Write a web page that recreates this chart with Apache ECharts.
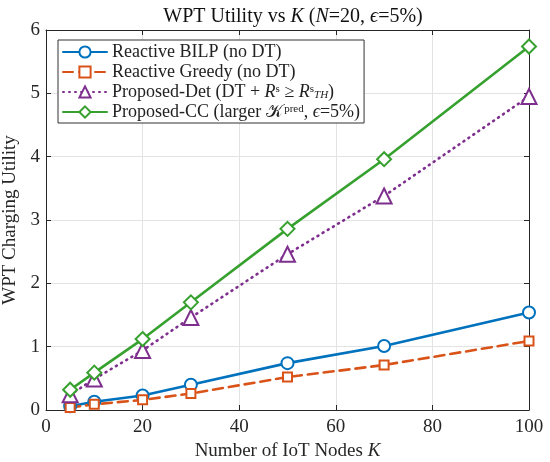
<!DOCTYPE html>
<html>
<head>
<meta charset="utf-8">
<script src="https://cdn.jsdelivr.net/npm/echarts@6/dist/echarts.min.js"></script>
<style>
  html, body { margin: 0; padding: 0; background: #fff; }
  #main { width: 550px; height: 462px; }
</style>
</head>
<body>
<div id="main"></div>
<script>
// data
var nodesK = [5, 10, 20, 30, 50, 70, 100];
var bilp   = [0.06, 0.13, 0.23, 0.40, 0.74, 1.01, 1.54];
var greedy = [0.04, 0.09, 0.16, 0.26, 0.52, 0.71, 1.09];
var det    = [0.24, 0.49, 0.94, 1.46, 2.46, 3.38, 4.95];
var cc     = [0.32, 0.59, 1.12, 1.70, 2.86, 3.96, 5.74];

var names = ['Reactive BILP (no DT)', 'Reactive Greedy (no DT)', 'Proposed-Det', 'Proposed-CC'];
var legendRich = {
  'Reactive BILP (no DT)': 'Reactive BILP (no DT)',
  'Reactive Greedy (no DT)': 'Reactive Greedy (no DT)',
  'Proposed-Det': 'Proposed-Det (DT + {i|R}{sup|s} ≥ {i|R}{sup|s}{sub|TH})',
  'Proposed-CC': 'Proposed-CC (larger {k|𝒦}{sup|pred}, {i|ϵ}=5%)'
};

var serif = 'Liberation Serif';
var axisCol = '#262626';

function pairs(ys) {
  var out = [];
  for (var i = 0; i < nodesK.length; i++) out.push([nodesK[i], ys[i]]);
  return out;
}

function mkSeries(name, ys, color, symbol, size, dash) {
  return {
    name: name,
    type: 'line',
    data: pairs(ys),
    symbol: symbol,
    symbolSize: size,
    showAllSymbol: true,
    lineStyle: { color: color, width: 2.6, type: dash, cap: 'round' },
    itemStyle: { color: color, borderColor: color, borderWidth: 2.2 },
    emphasis: { disabled: true },
    z: 3
  };
}

var chart = echarts.init(document.getElementById('main'));

chart.setOption({
  animation: false,
  backgroundColor: '#fff',
  title: {
    text: 'WPT Utility vs {i|K} ({i|N}=20, {i|ϵ}=5%)',
    left: 288,
    textAlign: 'center',
    top: 2,
    textStyle: {
      fontFamily: serif, fontSize: 20, fontWeight: 'normal', color: '#111',
      rich: { i: { fontFamily: serif, fontStyle: 'italic', fontSize: 20, color: '#111' } }
    }
  },
  grid: { left: 46, right: 21, top: 30, bottom: 52, outerBoundsMode: 'none' },
  legend: {
    orient: 'vertical',
    left: 58,
    top: 40,
    data: names,
    backgroundColor: '#fff',
    borderColor: '#333',
    borderWidth: 1,
    padding: [3, 4, 2, 4],
    itemGap: 2,
    itemWidth: 44,
    itemHeight: 14,
    formatter: function (n) { return legendRich[n]; },
    textStyle: {
      fontFamily: serif, fontSize: 18, color: '#222', lineHeight: 17.5,
      rich: {
        i: { fontFamily: serif, fontStyle: 'italic', fontSize: 18, color: '#222' },
        k: { fontFamily: serif, fontSize: 18, color: '#222', padding: [0, 1.5, 0, 0] },
        sup: { fontFamily: serif, fontSize: 11, color: '#222', verticalAlign: 'top', padding: [0, 0, 7, 0] },
        sub: { fontFamily: serif, fontStyle: 'italic', fontSize: 11, color: '#222', verticalAlign: 'bottom', padding: [5, 0, 0, 0] }
      }
    }
  },
  xAxis: [{
    type: 'value',
    min: 0, max: 100, interval: 20,
    name: 'Number of IoT Nodes {i|K}',
    nameLocation: 'middle',
    nameGap: 30,
    nameTextStyle: {
      fontFamily: serif, fontSize: 19, color: axisCol,
      rich: { i: { fontFamily: serif, fontStyle: 'italic', fontSize: 19, color: axisCol } }
    },
    axisLine: { show: true, onZero: false, lineStyle: { color: axisCol, width: 1 } },
    axisTick: { show: true, inside: true, length: 5, lineStyle: { color: axisCol } },
    axisLabel: { fontFamily: serif, fontSize: 19, color: axisCol, margin: 8 },
    splitLine: { show: true, lineStyle: { color: '#e3e3e3', width: 1 } }
  }, {
    type: 'value', position: 'top',
    min: 0, max: 100, interval: 20,
    axisLine: { show: true, onZero: false, lineStyle: { color: axisCol, width: 1 } },
    axisTick: { show: true, inside: true, length: 5, lineStyle: { color: axisCol } },
    axisLabel: { show: false },
    splitLine: { show: false }
  }],
  yAxis: [{
    type: 'value',
    min: 0, max: 6, interval: 1,
    name: 'WPT Charging Utility',
    nameLocation: 'middle',
    nameGap: 20,
    nameTextStyle: { fontFamily: serif, fontSize: 19, color: axisCol },
    axisLine: { show: true, onZero: false, lineStyle: { color: axisCol, width: 1 } },
    axisTick: { show: true, inside: true, length: 5, lineStyle: { color: axisCol } },
    axisLabel: { fontFamily: serif, fontSize: 19, color: axisCol, margin: 6 },
    splitLine: { show: true, lineStyle: { color: '#e3e3e3', width: 1 } }
  }, {
    type: 'value', position: 'right',
    min: 0, max: 6, interval: 1,
    axisLine: { show: true, onZero: false, lineStyle: { color: axisCol, width: 1 } },
    axisTick: { show: true, inside: true, length: 5, lineStyle: { color: axisCol } },
    axisLabel: { show: false },
    splitLine: { show: false }
  }],
  series: [
    mkSeries(names[0], bilp, '#0072BD', 'emptyCircle', 12, 'solid'),
    mkSeries(names[1], greedy, '#D95319', 'emptyRect', 9, [10, 6]),
    mkSeries(names[2], det, '#7E2F8E', 'emptyTriangle', 15, [1, 5]),
    mkSeries(names[3], cc, '#36A12E', 'emptyDiamond', 14, 'solid')
  ]
});
</script>
</body>
</html>
